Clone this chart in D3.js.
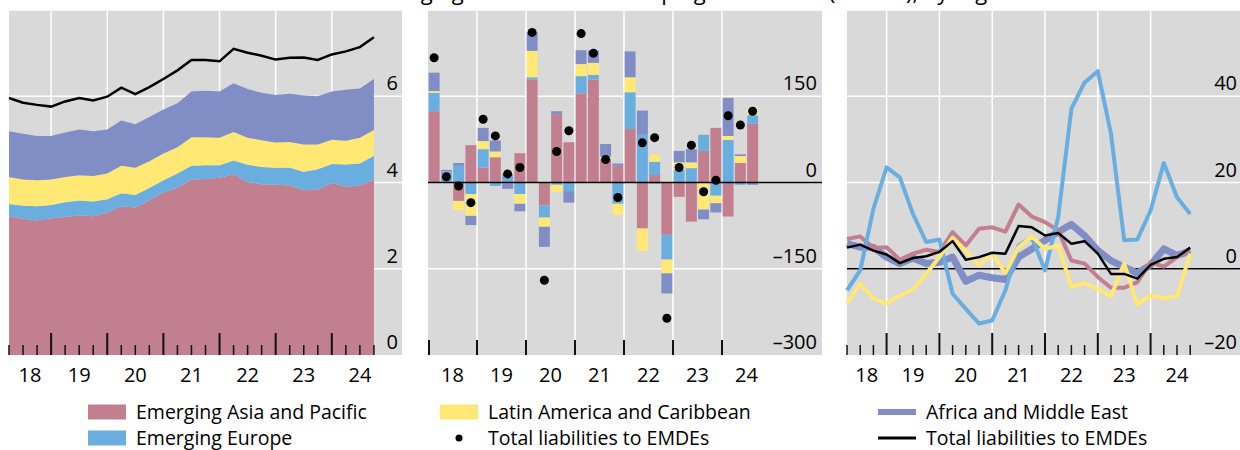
<!DOCTYPE html>
<html>
<head>
<meta charset="utf-8">
<script src="https://cdn.jsdelivr.net/npm/d3@7"></script>
<style>
  body { margin: 0; background: #fff; }
  svg { display: block; font-family: "Open Sans", "Noto Sans", sans-serif; }
</style>
</head>
<body>
<svg id="chart" width="1240" height="450"></svg>
<script>
// colours
const asiaColor = "#c27f8f";
const europeColor = "#6aaee0";
const latamColor = "#ffe873";
const africaColor = "#818dc5";
const totalColor = "#000000";
const panelBg = "#d9d9d9";

// quarters 2018Q1 .. 2024Q3
const quarters = [
  "2018Q1", "2018Q2", "2018Q3", "2018Q4",
  "2019Q1", "2019Q2", "2019Q3", "2019Q4",
  "2020Q1", "2020Q2", "2020Q3", "2020Q4",
  "2021Q1", "2021Q2", "2021Q3", "2021Q4",
  "2022Q1", "2022Q2", "2022Q3", "2022Q4",
  "2023Q1", "2023Q2", "2023Q3", "2023Q4",
  "2024Q1", "2024Q2", "2024Q3"
];
const years = [2018, 2019, 2020, 2021, 2022, 2023, 2024];
const yearLabels = ["18", "19", "20", "21", "22", "23", "24"];

// left panel: stocks
const stockAsia = [3.22, 3.16, 3.12, 3.17, 3.20, 3.24, 3.22, 3.30, 3.45, 3.42, 3.59, 3.77, 3.88, 4.07, 4.08, 4.11, 4.19, 4.01, 3.96, 3.95, 3.93, 3.82, 3.84, 3.99, 3.90, 3.93, 4.07];
const stockEurope = [0.28, 0.30, 0.33, 0.31, 0.34, 0.34, 0.34, 0.31, 0.30, 0.29, 0.28, 0.28, 0.33, 0.32, 0.32, 0.29, 0.32, 0.40, 0.40, 0.39, 0.41, 0.43, 0.47, 0.44, 0.52, 0.51, 0.55];
const stockLatam = [0.63, 0.61, 0.60, 0.59, 0.59, 0.59, 0.59, 0.60, 0.64, 0.63, 0.62, 0.62, 0.61, 0.66, 0.65, 0.64, 0.66, 0.63, 0.62, 0.59, 0.60, 0.63, 0.57, 0.56, 0.55, 0.60, 0.60];
const stockAfrica = [1.06, 1.06, 1.03, 1.01, 1.03, 1.06, 1.04, 1.02, 1.05, 1.01, 1.03, 1.02, 1.02, 1.06, 1.08, 1.07, 1.13, 1.13, 1.10, 1.10, 1.12, 1.14, 1.12, 1.12, 1.18, 1.14, 1.18];
const stockTotal = [5.96, 5.85, 5.80, 5.76, 5.88, 5.96, 5.90, 5.99, 6.20, 6.05, 6.21, 6.40, 6.60, 6.84, 6.84, 6.81, 7.10, 7.01, 6.94, 6.85, 6.89, 6.90, 6.84, 6.97, 7.04, 7.14, 7.37];

// middle panel: flows
const flowAsia = [124, 2, -32, 65, 26, 44, -2, 51, 179, -40, 119, 70, 155, 179, 40, 29, 93, -80, 13, -91, -25, -68, 55, 95, -59, 34, 102];
const flowEurope = [32, 17, 29, -20, 32, -6, 15, -20, 4, -21, -4, -15, 30, 8, 1, -37, 64, 83, 23, -43, 22, 25, 28, -23, 74, -4, 15];
const flowLatam = [3, 0, -16, -38, 14, 10, 5, -17, 46, -16, -12, 0, 21, 21, 4, -19, 26, -39, 12, -24, 13, 10, -47, -13, 7, 12, 12];
const flowAfrica = [32, 3, 5, -16, 23, 19, -9, -13, 32, -35, 5, -20, 24, 22, 22, 4, 45, 42, -2, -35, 20, 23, -17, -16, 66, 3, -4];
const flowTotal = [217, 10, -6, -35, 110, 81, 15, 26, 261, -170, 54, 90, 259, 225, 40, -26, null, 69, 78, -236, 26, 65, -16, 4, 116, 100, 124];

// right panel: growth rates
const growthAsia = [6.9, 7.5, 4.8, 5.0, 2.1, 3.5, 4.4, 3.9, 8.5, 5.4, 9.3, 9.6, 8.6, 14.9, 12.1, 10.8, 8.9, 1.9, 1.2, -1.9, -4.4, -4.4, -3.1, 1.5, 0.5, 2.7, 4.4];
const growthEurope = [-5.0, -0.4, 13.9, 23.5, 21.2, 12.7, 6.2, 6.8, -5.8, -9.3, -12.7, -12.0, -5.0, 5.4, 7.3, -0.4, 12.0, 37.1, 43.2, 45.8, 31.3, 6.6, 6.8, 13.5, 24.5, 16.6, 12.7];
const growthLatam = [-8.1, -3.5, -6.9, -8.1, -6.2, -4.8, -1.2, 2.7, 7.2, 4.2, 0.8, 3.5, -1.0, 5.0, 7.5, 4.6, 5.4, -4.2, -3.3, -4.6, -6.4, 1.2, -8.3, -6.2, -6.9, -6.4, 3.5];
const growthAfrica = [5.8, 5.0, 5.0, 2.7, 1.2, 2.5, 1.2, 1.5, 2.7, -2.9, -1.5, -2.1, -2.5, 2.7, 4.6, 6.6, 8.5, 10.3, 7.7, 4.2, 1.9, 0.4, -1.0, 0.9, 4.6, 3.1, 4.1];
const growthTotal = [4.9, 5.6, 4.2, 3.3, 1.3, 2.5, 2.9, 3.9, 6.4, 2.1, 2.7, 3.7, 3.5, 9.9, 9.6, 7.7, 8.3, 5.8, 6.4, 3.5, -1.2, -1.2, -2.3, 0.9, 2.3, 2.7, 4.9];

const regionKeys = ["asia", "europe", "latam", "africa"];
const regionColors = { asia: asiaColor, europe: europeColor, latam: latamColor, africa: africaColor };

const titleText = "Cross-border liabilities to emerging market and developing economies (EMDEs), by region";

// quarter string -> decimal year at end of quarter
function quarterEnd(q) {
    return +q.slice(0, 4) + (+q.slice(5)) / 4;
}
function quarterMid(q) {
    return +q.slice(0, 4) + (+q.slice(5) - 0.5) / 4;
}

const svg = d3.select("#chart");
const plotTop = 10, plotBottom = 355;

function drawPanel(opts) {
    const g = svg.append("g");
    g.append("rect")
        .attr("x", opts.left).attr("y", plotTop)
        .attr("width", opts.right - opts.left).attr("height", plotBottom - plotTop)
        .attr("fill", panelBg);
    const x = d3.scaleLinear().domain(opts.xDomain).range([opts.left, opts.right]);
    const y = d3.scaleLinear().domain(opts.yDomain).range([plotBottom, plotTop]);

    // horizontal gridlines
    g.append("g").selectAll("line")
        .data(opts.yTicks.filter(v => v !== opts.yDomain[0]))
        .join("line")
        .attr("x1", opts.left).attr("x2", opts.right)
        .attr("y1", d => y(d)).attr("y2", d => y(d))
        .attr("stroke", "#fff").attr("stroke-width", 1.5);
    // vertical gridlines at year boundaries
    g.append("g").selectAll("line")
        .data(years.slice(1))
        .join("line")
        .attr("x1", d => x(d)).attr("x2", d => x(d))
        .attr("y1", plotTop).attr("y2", plotBottom)
        .attr("stroke", "#fff").attr("stroke-width", 1.5);

    // y labels
    g.append("g").selectAll("text")
        .data(opts.yTicks.filter(v => v !== opts.yDomain[1]))
        .join("text")
        .attr("x", opts.labelX)
        .attr("y", d => y(d) - 6)
        .attr("text-anchor", "end")
        .attr("font-size", 20)
        .attr("fill", "#000")
        .text(d => d < 0 ? "\u2013" + Math.abs(d) : d);

    // year labels
    g.append("g").selectAll("text")
        .data(years)
        .join("text")
        .attr("x", d => (Math.max(x(d), opts.left) + x(d + 1)) / 2)
        .attr("y", 382)
        .attr("text-anchor", "middle")
        .attr("font-size", 20)
        .attr("fill", "#000")
        .text((d, i) => yearLabels[i]);

    return { g, x, y };
}

// ---------- left panel: stacked areas ----------
const p1 = drawPanel({
    left: 9, right: 402, xDomain: [2018.25, 2025.25],
    yDomain: [0, 8], yTicks: [0, 2, 4, 6, 8], labelX: 398
});
const stockRows = quarters.map((q, i) => ({
    t: quarterEnd(q), asia: stockAsia[i], europe: stockEurope[i], latam: stockLatam[i], africa: stockAfrica[i]
}));
const stockStack = d3.stack().keys(regionKeys)(stockRows);
const area = d3.area()
    .x(d => p1.x(d.data.t))
    .y0(d => p1.y(d[0]))
    .y1(d => p1.y(d[1]));
p1.g.append("g").selectAll("path")
    .data(stockStack)
    .join("path")
    .attr("d", area)
    .attr("fill", d => regionColors[d.key]);
p1.g.append("path")
    .datum(quarters.map((q, i) => [quarterEnd(q), stockTotal[i]]))
    .attr("d", d3.line().x(d => p1.x(d[0])).y(d => p1.y(d[1])))
    .attr("fill", "none").attr("stroke", totalColor).attr("stroke-width", 2.5);

// ---------- middle panel: stacked bars ----------
const p2 = drawPanel({
    left: 428, right: 822, xDomain: [2018, 2018 + 394 / 49],
    yDomain: [-300, 300], yTicks: [-300, -150, 0, 150, 300], labelX: 817
});
const flowRows = quarters.map((q, i) => ({
    t: quarterMid(q), asia: flowAsia[i], europe: flowEurope[i], latam: flowLatam[i], africa: flowAfrica[i]
}));
const flowStack = d3.stack().keys(regionKeys).offset(d3.stackOffsetDiverging)(flowRows);
const barW = (p2.x(2018.25) - p2.x(2018)) - 1.3;
p2.g.append("g").selectAll("g")
    .data(flowStack)
    .join("g")
    .attr("fill", d => regionColors[d.key])
    .selectAll("rect")
    .data(d => d)
    .join("rect")
    .attr("x", d => p2.x(d.data.t) - barW / 2)
    .attr("width", barW)
    .attr("y", d => p2.y(Math.max(d[0], d[1])))
    .attr("height", d => Math.abs(p2.y(d[0]) - p2.y(d[1])));
p2.g.append("line")
    .attr("x1", 428).attr("x2", 822)
    .attr("y1", p2.y(0)).attr("y2", p2.y(0))
    .attr("stroke", "#000").attr("stroke-width", 1.5);
p2.g.append("g").selectAll("circle")
    .data(quarters.map((q, i) => [quarterMid(q), flowTotal[i]]).filter(d => d[1] !== null))
    .join("circle")
    .attr("cx", d => p2.x(d[0]))
    .attr("cy", d => p2.y(d[1]))
    .attr("r", 4.5)
    .attr("fill", totalColor);

// ---------- right panel: lines ----------
const p3 = drawPanel({
    left: 847, right: 1240, xDomain: [2018.25, 2018.25 + 393 / 52.8],
    yDomain: [-20, 60], yTicks: [-20, 0, 20, 40, 60], labelX: 1237
});
p3.g.append("line")
    .attr("x1", 847).attr("x2", 1240)
    .attr("y1", p3.y(0)).attr("y2", p3.y(0))
    .attr("stroke", "#000").attr("stroke-width", 1.5);
const growthSeries = [
    { values: growthAfrica, color: africaColor, width: 7 },
    { values: growthAsia, color: asiaColor, width: 4 },
    { values: growthEurope, color: europeColor, width: 4 },
    { values: growthLatam, color: latamColor, width: 4 },
    { values: growthTotal, color: totalColor, width: 2.5 }
];
const growthLine = d3.line()
    .x((d, i) => p3.x(quarterEnd(quarters[i])))
    .y(d => p3.y(d));
p3.g.append("g").selectAll("path")
    .data(growthSeries)
    .join("path")
    .attr("d", d => growthLine(d.values))
    .attr("fill", "none")
    .attr("stroke", d => d.color)
    .attr("stroke-width", d => d.width)
    .attr("stroke-linejoin", "round");

// x ticks: quarterly for the stock and growth panels, yearly for the flow panel
[p1, p3].forEach(p => {
    p.g.append("g").selectAll("line")
        .data(quarters)
        .join("line")
        .attr("x1", d => p.x(quarterEnd(d))).attr("x2", d => p.x(quarterEnd(d)))
        .attr("y1", d => d.endsWith("Q4") ? plotBottom - 22 : plotBottom - 10)
        .attr("y2", plotBottom)
        .attr("stroke", "#111")
        .attr("stroke-width", d => d.endsWith("Q4") ? 2 : 1.5);
});
p2.g.append("g").selectAll("line")
    .data(years)
    .join("line")
    .attr("x1", d => p2.x(d) + (d === 2018 ? 1 : 0)).attr("x2", d => p2.x(d) + (d === 2018 ? 1 : 0))
    .attr("y1", plotBottom - 15).attr("y2", plotBottom)
    .attr("stroke", "#111").attr("stroke-width", 2);

// title: only its lower edge shows at the top of the picture.
// Line it up so the "p" of "developing" falls where the reference has it.
const title = svg.append("text")
    .attr("x", 0).attr("y", 0)
    .attr("font-size", 22)
    .text(titleText);
const pIdx = titleText.indexOf("developing") + 5;
const pOffset = title.node().getSubStringLength(0, pIdx);
title.attr("x", 648 - pOffset);

// ---------- legend ----------
const legendItems = [
    { label: "Emerging Asia and Pacific", type: "rect", color: asiaColor, x: 88, y: 412 },
    { label: "Emerging Europe", type: "rect", color: europeColor, x: 88, y: 438 },
    { label: "Latin America and Caribbean", type: "rect", color: latamColor, x: 440, y: 412 },
    { label: "Total liabilities to EMDEs", type: "dot", color: totalColor, x: 440, y: 438 },
    { label: "Africa and Middle East", type: "line", color: africaColor, x: 878, y: 412, w: 6 },
    { label: "Total liabilities to EMDEs", type: "line", color: totalColor, x: 878, y: 438, w: 3 }
];
const legend = svg.append("g");
legendItems.forEach(item => {
    if (item.type === "rect") {
        legend.append("rect")
            .attr("x", item.x).attr("y", item.y - 7.5)
            .attr("width", 38).attr("height", 15)
            .attr("fill", item.color);
    } else if (item.type === "dot") {
        legend.append("circle")
            .attr("cx", item.x + 19).attr("cy", item.y)
            .attr("r", 3.5).attr("fill", item.color);
    } else {
        legend.append("line")
            .attr("x1", item.x).attr("x2", item.x + 38)
            .attr("y1", item.y).attr("y2", item.y)
            .attr("stroke", item.color).attr("stroke-width", item.w);
    }
    legend.append("text")
        .attr("x", item.x + 48).attr("y", item.y + 6.5)
        .attr("font-size", 19.5)
        .text(item.label);
});
</script>
</body>
</html>
